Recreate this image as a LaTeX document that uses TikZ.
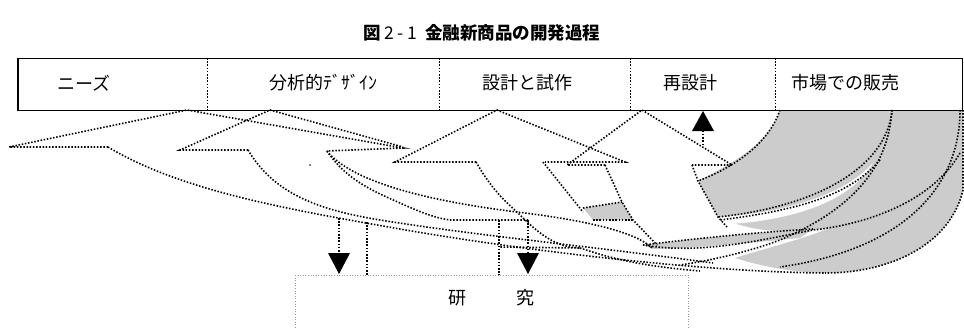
\documentclass[tikz,border=0pt]{standalone}
\usepackage{fontspec}
\newfontfamily\jp{Noto Sans CJK JP}
\begin{document}
\begin{tikzpicture}[x=1pt,y=-1pt,
  dl/.style={line width=1.6pt, dash pattern=on 1.5pt off 1.7pt, black},
  gl/.style={line width=1pt, dash pattern=on 1pt off 1.6pt, black!40},
  gfill/.style={fill=black!20},
  lbl/.style={font=\jp\fontsize{18}{18}\selectfont, inner sep=0pt},
  tri/.style={fill=black, draw=none}]
\useasboundingbox (0,0) rectangle (964,327);

% title
\node[font=\jp\fontsize{17.5}{17.5}\selectfont, inner sep=0pt] (title) at (482,33)
  {{\bfseries 図}\,2 - 1\ \ {\bfseries 金融新商品の開発過程}};

% ---------- gray back bands ----------
\fill[gfill] (780,110) -- (963,110) -- (963,190)
  .. controls (950,245) and (890,273) .. (825,273)
  .. controls (790,272) and (760,266) .. (735,258)
  .. controls (760,250) and (800,240) .. (830,228)
  .. controls (800,232) and (760,236) .. (718,217)
  -- (698,181) .. controls (740,160) and (770,140) .. (780,110) -- cycle;
% white crescent below D back band
\fill[white] (718,217) .. controls (770,214) and (840,200) .. (873,163)
  .. controls (850,203) and (790,220) .. (730,224) -- cycle;
% small gray pieces
\fill[gfill] (583,208) -- (622,202) -- (633,220) -- (593,220) -- cycle;
\fill[gfill] (643,245) .. controls (700,238) and (760,232) .. (813,229)
  -- (800,238) .. controls (740,244) and (690,248) .. (653,249) -- cycle;

% ---------- top box ----------
\node[minimum width=944pt, minimum height=52pt, inner sep=0pt, anchor=north west] (box) at (18,58) {};
\draw[line width=0.8pt] (box.north west) -- (box.north east);
\draw[line width=1.5pt] (box.north west) -- (box.south west) -- (box.south east) -- (box.north east);
\draw[dl, line width=0.9pt] (207,58) -- (207,110);
\draw[dl, line width=0.9pt] (439,58) -- (439,110);
\draw[dl, line width=0.9pt] (630,58) -- (630,110);
\draw[dl, line width=0.9pt] (775,58) -- (775,110);
\node[lbl] (l1) at (84,83) {ニーズ};
\node[lbl] (l2) at (323,83) {分析的ﾃﾞｻﾞｲﾝ};
\node[lbl] (l3) at (527,83) {設計と試作};
\node[lbl] (l4) at (690,83) {再設計};
\node[lbl] (l5) at (845,83) {市場での販売};

% ---------- arrow heads ----------
% A
\draw[dl] (108,147) -- (9,147) -- (187,110) -- (403,148) -- (327,151);
% B
\draw[dl] (248,150) -- (180,150) -- (270,110) -- (403,147);
% C
\draw[dl] (476,162) -- (395,162) -- (497,110) -- (625,162) -- (545,162);
% D
\draw[dl] (605,165) -- (567,165) -- (642,110) -- (732,165) -- (692,165);

% ---------- front band edges ----------
% A outer
\draw[dl] (108,147) .. controls (180,190) and (280,208) .. (400,229)
  .. controls (520,250) and (700,272) .. (825,273);
% B outer
\draw[dl] (248,150) .. controls (275,195) and (320,210) .. (380,220)
  .. controls (480,236) and (580,245) .. (713,263);
% A inner
\draw[dl] (327,151) .. controls (350,180) and (420,200) .. (517,212)
  .. controls (600,222) and (640,235) .. (653,249);
% B inner
\draw[dl] (327,151) .. controls (345,178) and (370,190) .. (400,203)
  .. controls (420,212) and (435,218) .. (450,220) -- (528,220);
% C outer
\draw[dl] (476,162) .. controls (495,195) and (510,205) .. (520,215)
  .. controls (545,240) and (560,247) .. (580,248) -- (500,247);
\draw[dl] (580,248) .. controls (610,258) and (640,266) .. (700,271);
% C inner
\draw[dl] (543,162) -- (583,212);
\draw[dl] (583,208) -- (622,202);
\draw[dl] (593,220) -- (633,220);
% D outer
\draw[dl] (605,165) -- (622,202) -- (633,220) -- (657,245);
% D inner
\draw[dl] (692,165) -- (698,181) -- (718,217) -- (727,227);

% ---------- back band arcs ----------
\draw[dl] (780,110) .. controls (770,140) and (740,165) .. (698,181);
\draw[dl] (892,110) .. controls (888,160) and (830,205) .. (718,217);
\draw[dl] (892,110) .. controls (888,170) and (850,210) .. (780,240)
  .. controls (740,255) and (700,262) .. (680,265);
\draw[dl] (960,110) .. controls (960,190) and (900,250) .. (780,267);
\draw[dl] (963,110) -- (963,190) .. controls (950,245) and (890,273) .. (825,273);
\draw[dl] (960,153) .. controls (930,205) and (860,225) .. (813,230)
  .. controls (760,240) and (700,255) .. (643,245);
\draw[dl] (880,160) .. controls (850,195) and (800,210) .. (720,220);
\draw[dl] (643,245) .. controls (700,238) and (760,232) .. (813,229);

% ---------- up arrow ----------
\coordinate (upbot) at (703,145);
\coordinate (upbase) at (703,131);
\draw[dl] (upbot) -- (upbase);
\fill[tri] (692,131) -- (714,131) -- (703,111) -- cycle;

% ---------- research box ----------
\draw[gl] (295,275) -- (688,275) -- (688,330);
\draw[gl] (295,275) -- (295,330);
\node[font=\jp\fontsize{18}{18}\selectfont, inner sep=0pt] (k1) at (457,298) {研};
\node[font=\jp\fontsize{18}{18}\selectfont, inner sep=0pt] (k2) at (525,298) {究};

% ---------- down arrows ----------
\draw[dl] (339,218) -- (339,253);
\fill[tri] (328,253) -- (350,253) -- (339,274) -- cycle;
\draw[dl] (528,220) -- (528,253);
\fill[tri] (517,253) -- (539,253) -- (528,274) -- cycle;
\draw[dl] (367,222) -- (367,275);
\draw[dl] (499,220) -- (499,275);

% stray dots
\fill (310,165) circle (0.9);
\end{tikzpicture}
\end{document}
